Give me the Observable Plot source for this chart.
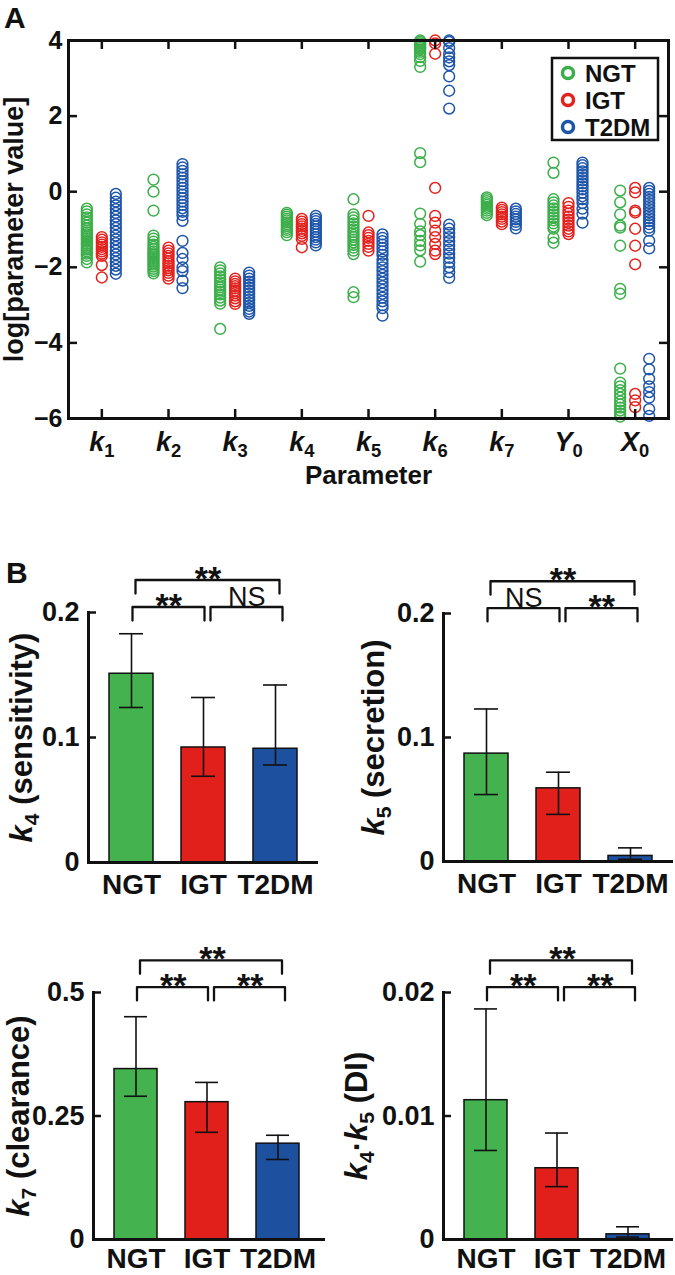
<!DOCTYPE html>
<html><head><meta charset="utf-8">
<script src="https://cdn.jsdelivr.net/npm/d3@7"></script>
<script src="https://cdn.jsdelivr.net/npm/@observablehq/plot@0.6"></script>
<style>
body{margin:0;background:#fff;}
#root{position:relative;width:675px;height:1275px;overflow:hidden;font-family:"Liberation Sans",Arial,sans-serif;color:#111;}
#root > svg{position:absolute;}
</style></head><body><div id="root"></div>
<script>
// ---------- Panel A data ----------
const parameters = ["k_1","k_2","k_3","k_4","k_5","k_6","k_7","Y_0","X_0"];
const paramIndex = [1,2,3,4,5,6,7,8,9];
const groups = ["NGT","IGT","T2DM"];
const pointColors = ["#3cae4a","#e3221d","#1d55a8"];
const barColors = ["#43b24f","#e2201b","#1e50a0"];
const yTicksA = [-6,-4,-2,0,2,4];
const yTickLabelsA = ["\u22126","\u22124","\u22122","0","2","4"];

const ngtLogValues = [
  [-0.45,-0.52,-0.6,-0.68,-0.75,-0.82,-0.9,-0.97,-1.03,-1.08,-1.13,-1.18,-1.23,-1.28,-1.33,-1.38,-1.43,-1.48,-1.53,-1.58,-1.64,-1.7,-1.78,-1.87],
  [0.32,0.0,-0.5,-1.16,-1.24,-1.32,-1.4,-1.46,-1.52,-1.58,-1.63,-1.68,-1.73,-1.78,-1.83,-1.88,-1.93,-1.98,-2.04,-2.1,-2.16],
  [-2.0,-2.08,-2.16,-2.24,-2.32,-2.4,-2.47,-2.53,-2.59,-2.65,-2.72,-2.8,-2.88,-2.96,-3.63],
  [-0.56,-0.61,-0.66,-0.71,-0.76,-0.81,-0.86,-0.91,-0.96,-1.01,-1.07,-1.15],
  [-0.2,-0.6,-0.68,-0.76,-0.84,-0.92,-1.0,-1.07,-1.14,-1.2,-1.27,-1.34,-1.41,-1.48,-1.56,-1.65,-2.66,-2.79],
  [4.0,3.96,3.92,3.88,3.84,3.8,3.76,3.7,3.64,3.56,3.46,3.3,1.02,0.78,-0.58,-0.85,-1.05,-1.15,-1.3,-1.42,-1.55,-1.85],
  [-0.15,-0.2,-0.25,-0.3,-0.35,-0.4,-0.45,-0.5,-0.56,-0.62],
  [0.77,0.5,-0.2,-0.28,-0.36,-0.44,-0.52,-0.6,-0.68,-0.76,-0.84,-0.92,-0.98,-1.22,-1.35],
  [0.03,-0.28,-0.6,-0.9,-0.95,-1.43,-2.57,-2.7,-4.68,-5.05,-5.15,-5.25,-5.35,-5.45,-5.55,-5.63,-5.71,-5.79,-5.87,-5.95]
];
const igtLogValues = [
  [-1.2,-1.27,-1.34,-1.4,-1.46,-1.52,-1.58,-1.64,-1.7,-1.94,-2.27],
  [-1.48,-1.56,-1.63,-1.7,-1.77,-1.84,-1.9,-1.96,-2.02,-2.08,-2.15,-2.22,-2.3],
  [-2.3,-2.37,-2.44,-2.5,-2.56,-2.62,-2.68,-2.75,-2.82,-2.9,-2.97],
  [-0.72,-0.79,-0.86,-0.92,-0.98,-1.04,-1.1,-1.17,-1.25,-1.47],
  [-0.64,-1.08,-1.15,-1.22,-1.3,-1.38,-1.46,-1.56],
  [4.0,3.92,3.65,0.1,-0.64,-0.82,-1.03,-1.2,-1.38,-1.56,-1.65],
  [-0.42,-0.48,-0.54,-0.6,-0.66,-0.72,-0.79,-0.86],
  [-0.3,-0.4,-0.5,-0.58,-0.66,-0.74,-0.82,-0.9,-0.98,-1.05,-1.12],
  [0.1,-0.02,-0.5,-0.55,-0.98,-1.43,-1.92,-5.35,-5.52,-5.7]
];
const t2dmLogValues = [
  [-0.06,-0.16,-0.26,-0.36,-0.46,-0.56,-0.66,-0.76,-0.86,-0.96,-1.06,-1.16,-1.26,-1.36,-1.46,-1.56,-1.66,-1.76,-1.86,-1.96,-2.06,-2.17],
  [0.73,0.64,0.55,0.46,0.37,0.28,0.19,0.1,0.01,-0.08,-0.17,-0.26,-0.35,-0.44,-0.53,-0.62,-0.77,-1.3,-1.62,-1.78,-2.0,-2.1,-2.35,-2.55],
  [-2.14,-2.22,-2.3,-2.38,-2.46,-2.54,-2.62,-2.7,-2.78,-2.86,-2.94,-3.02,-3.1,-3.17,-3.23],
  [-0.64,-0.71,-0.78,-0.85,-0.92,-0.99,-1.06,-1.13,-1.2,-1.27,-1.34,-1.42],
  [-1.13,-1.22,-1.31,-1.4,-1.49,-1.58,-1.67,-1.8,-1.9,-2.0,-2.1,-2.2,-2.3,-2.4,-2.5,-2.6,-2.7,-2.8,-2.9,-3.0,-3.08,-3.28],
  [4.0,3.96,3.8,3.65,3.55,3.45,3.35,3.05,2.67,2.2,-0.87,-0.98,-1.09,-1.2,-1.31,-1.42,-1.53,-1.64,-1.75,-1.87,-2.0,-2.13,-2.28],
  [-0.45,-0.52,-0.59,-0.66,-0.73,-0.8,-0.88,-0.97],
  [0.77,0.7,0.62,0.54,0.46,0.38,0.3,0.22,0.14,0.06,-0.03,-0.12,-0.2,-0.3,-0.45,-0.58,-0.82],
  [0.1,0.02,-0.06,-0.14,-0.22,-0.3,-0.38,-0.46,-0.54,-0.62,-0.7,-0.78,-0.86,-0.95,-1.03,-1.3,-1.5,-4.42,-4.7,-4.95,-5.15,-5.3,-5.45,-5.75,-5.93]
];

// ---------- Panel B data (median, lower / upper error) ----------
const k4Median = [0.151,0.092,0.091];
const k4Low    = [0.124,0.069,0.078];
const k4High   = [0.183,0.132,0.142];
const k5Median = [0.087,0.059,0.0045];
const k5Low    = [0.054,0.038,0.0018];
const k5High   = [0.123,0.072,0.011];
const k7Median = [0.345,0.278,0.194];
const k7Low    = [0.290,0.217,0.162];
const k7High   = [0.451,0.318,0.211];
const diMedian = [0.01128,0.00577,0.00042];
const diLow    = [0.00721,0.00428,0.0002];
const diHigh   = [0.01867,0.00862,0.00103];
// significance: [NGT-IGT, IGT-T2DM, NGT-T2DM]
const k4Sig = ["**","NS","**"];
const k5Sig = ["NS","**","**"];
const k7Sig = ["**","**","**"];
const diSig = ["**","**","**"];

const FONT = "'Liberation Sans', Arial, Helvetica, sans-serif";
const INK = "#111";
const root = document.getElementById("root");

// ---------- Panel A ----------
const AW = 675, AH = 490, AmL = 68, AmR = 7, AmT = 40, AmB = 72;
const AinW = AW - AmL - AmR, AinH = AH - AmT - AmB;
const groupValues = [ngtLogValues, igtLogValues, t2dmLogValues];
const groupDx = [-15, 0, 14];
const pts = vals => vals.flatMap((list, pi) => list.map(v => ({param: paramIndex[pi], value: v})));

const plotA = Plot.plot({
  width: AW, height: AH, marginLeft: AmL, marginRight: AmR, marginTop: AmT, marginBottom: AmB,
  style: `font-family:${FONT};overflow:visible;background:transparent;color:${INK}`,
  x: {domain: [0.5, 9.5]},
  y: {domain: [-6, 4]},
  marks: [
    ...groupValues.map((vals, gi) => Plot.dot(pts(vals), {x: "param", y: "value", r: 5.4, stroke: pointColors[gi], strokeWidth: 1.5, dx: groupDx[gi]})),
    Plot.frame({stroke: INK, strokeWidth: 3}),
    Plot.ruleY(yTicksA.slice(1, -1), {y: d => d, insetRight: AinW - 9, stroke: INK, strokeWidth: 2.5}),
    Plot.ruleY(yTicksA.slice(1, -1), {y: d => d, insetLeft: AinW - 9, stroke: INK, strokeWidth: 2.5}),
    Plot.ruleX(paramIndex, {x: d => d, insetTop: AinH - 9, stroke: INK, strokeWidth: 2.5}),
    Plot.ruleX(paramIndex, {x: d => d, insetBottom: AinH - 9, stroke: INK, strokeWidth: 2.5}),
    Plot.axisY({ticks: yTicksA, tickSize: 0, tickPadding: 6, tickFormat: (d) => yTickLabelsA[yTicksA.indexOf(d)], fontSize: 25, fontWeight: "bold", label: null}),
    Plot.axisX({ticks: paramIndex, tickSize: 0, tickPadding: 13, tickFormat: (d) => parameters[d - 1], fontSize: 27, fontWeight: "bold", label: null}),
    Plot.text(["Parameter"], {text: d => d, frameAnchor: "bottom", textAnchor: "middle", lineAnchor: "bottom", dy: 65, fontSize: 26, fontWeight: "bold", fill: INK}),
    Plot.text(["log[parameter value]"], {text: d => d, frameAnchor: "left", textAnchor: "middle", lineAnchor: "middle", rotate: -90, dx: -54, fontSize: 27, fontWeight: "bold", fill: INK})
  ]
});
plotA.style.left = "0px"; plotA.style.top = "0px";
root.appendChild(plotA);

// ---------- Panel B ----------
function barChart(o) {
  const rows = groups.map((g, i) => ({group: g, median: o.median[i], low: o.low[i], high: o.high[i]}));
  const innerW = o.width - o.marginLeft - o.marginRight;
  const step = 72.5;
  const brackets = [
    {from: 0, to: 1, level: 1.022, text: o.sig[0], dx: 1},
    {from: 1, to: 2, level: 1.022, text: o.sig[1], dx: 7},
    {from: 0, to: 2, level: 1.13, text: o.sig[2], dx: 4}
  ];
  const bracketMarks = brackets.flatMap(b => {
    const top = o.yMax * b.level, leg = o.yMax * (b.level - 0.054);
    const path = [{x: groups[b.from], y: leg}, {x: groups[b.from], y: top}, {x: groups[b.to], y: top}, {x: groups[b.to], y: leg}];
    const isNS = b.text === "NS";
    return [
      Plot.line(path, {x: "x", y: "y", stroke: INK, strokeWidth: 2.3, dx: b.dx, curve: "linear"}),
      Plot.text([b], {x: () => groups[b.from], y: () => top, text: d => d.text, dx: b.dx + (b.to - b.from) * step / 2,
        dy: isNS ? -10 : -1, fontSize: isNS ? 27 : 34, fontWeight: isNS ? "normal" : "bold", fill: INK,
        letterSpacing: isNS ? 0 : 1})
    ];
  });
  const svg = Plot.plot({
    width: o.width, height: o.height, marginLeft: o.marginLeft, marginRight: o.marginRight,
    marginTop: o.marginTop, marginBottom: o.marginBottom,
    style: `font-family:${FONT};overflow:visible;background:transparent;color:${INK}`,
    x: {type: "band", domain: groups, paddingInner: 0.39, paddingOuter: 0.28, insetRight: o.insetRight || 0},
    y: {domain: [0, o.yMax]},
    color: {domain: groups, range: barColors},
    marks: [
      Plot.barY(rows, {x: "group", y: "median", fill: "group", stroke: INK, strokeWidth: 1.5}),
      Plot.ruleX(rows, {x: "group", y1: "low", y2: "high", stroke: INK, strokeWidth: 1.6}),
      Plot.tickY(rows, {x: "group", y: "high", inset: 10, stroke: INK, strokeWidth: 1.6}),
      Plot.tickY(rows, {x: "group", y: "low", inset: 10, stroke: INK, strokeWidth: 1.6}),
      Plot.ruleY([0], {stroke: INK, strokeWidth: 3}),
      Plot.frame({anchor: "left", stroke: INK, strokeWidth: 3}),
      Plot.ruleY(o.yTicks.slice(1), {y: d => d, insetRight: innerW - 8, stroke: INK, strokeWidth: 2.5}),
      Plot.axisY({ticks: o.yTicks, tickSize: 0, tickPadding: 9, tickFormat: d => o.yTickLabels[o.yTicks.indexOf(d)], fontSize: 27, fontWeight: "bold", label: null}),
      Plot.axisX({tickSize: 0, tickPadding: o.xPad, fontSize: 28, fontWeight: "bold", label: null}),
      Plot.text([o.yLabel], {text: d => d, frameAnchor: "left", textAnchor: "middle", lineAnchor: "middle", rotate: -90, dx: o.labelDx, fontSize: 31, fontWeight: "bold", fill: INK}),
      ...bracketMarks
    ]
  });
  svg.style.left = o.left + "px"; svg.style.top = o.top + "px";
  root.appendChild(svg);
}

barChart({median: k4Median, low: k4Low, high: k4High, sig: k4Sig, yMax: 0.2, yTicks: [0, 0.1, 0.2], yTickLabels: ["0","0.1","0.2"],
  yLabel: "k_4 (sensitivity)", left: 0, top: 555, width: 337, height: 350, marginLeft: 88, marginRight: 19, marginTop: 57, marginBottom: 43, labelDx: -66, xPad: 12});
barChart({median: k5Median, low: k5Low, high: k5High, sig: k5Sig, yMax: 0.2, yTicks: [0, 0.1, 0.2], yTickLabels: ["0","0.1","0.2"],
  yLabel: "k_5 (secretion)", left: 337, top: 555, width: 338, height: 350, marginLeft: 106, marginRight: 2, marginTop: 58, marginBottom: 44, labelDx: -69, xPad: 12});
barChart({median: k7Median, low: k7Low, high: k7High, sig: k7Sig, yMax: 0.5, yTicks: [0, 0.25, 0.5], yTickLabels: ["0","0.25","0.5"],
  yLabel: "k_7 (clearance)", left: 0, top: 930, width: 337, height: 345, marginLeft: 93, marginRight: 12, marginTop: 62, marginBottom: 36, labelDx: -74, insetRight: 4, xPad: 9});
barChart({median: diMedian, low: diLow, high: diHigh, sig: diSig, yMax: 0.02, yTicks: [0, 0.01, 0.02], yTickLabels: ["0","0.01","0.02"],
  yLabel: "k_4\u00b7k_5 (DI)", left: 337, top: 930, width: 338, height: 345, marginLeft: 106, marginRight: 2, marginTop: 62, marginBottom: 36, labelDx: -86, insetRight: 2, xPad: 9});

// ---------- Overlay: panel letters + legend ----------
const NS = "http://www.w3.org/2000/svg";
const ov = d3.create("svg").attr("width", 675).attr("height", 1275)
  .style("left", "0px").style("top", "0px").style("pointer-events", "none")
  .attr("font-family", FONT).attr("fill", INK);
ov.append("text").attr("x", 4).attr("y", 28).attr("font-size", 30).attr("font-weight", "bold").text("A");
ov.append("text").attr("x", 6).attr("y", 583).attr("font-size", 30).attr("font-weight", "bold").text("B");
const lg = ov.append("g").attr("transform", "translate(552,58)");
lg.append("rect").attr("width", 106).attr("height", 82).attr("fill", "#fff").attr("stroke", INK).attr("stroke-width", 2.5);
groups.forEach((g, i) => {
  const yy = 15 + i * 27;
  lg.append("circle").attr("cx", 16).attr("cy", yy).attr("r", 5.5).attr("fill", "none").attr("stroke", pointColors[i]).attr("stroke-width", 3.5);
  lg.append("text").attr("x", 33).attr("y", yy + 8.5).attr("font-size", 24).attr("font-weight", "bold").text(g);
});
root.appendChild(ov.node());

// ---------- rich text: italic symbol + subscript digit ----------
function richify(container) {
  container.querySelectorAll("text").forEach(el => {
    const s = el.textContent;
    if (!/[kXY]_\d/.test(s)) return;
    const fs = parseFloat(getComputedStyle(el).fontSize) || 20;
    const shift = Math.round(fs * 0.24);
    while (el.firstChild) el.removeChild(el.firstChild);
    let pending = 0;
    s.split(/([kXY]_\d)/).forEach(p => {
      if (!p) return;
      const m = p.match(/^([kXY])_(\d)$/);
      if (m) {
        const a = document.createElementNS(NS, "tspan");
        a.setAttribute("font-style", "italic");
        if (pending) a.setAttribute("dy", -pending);
        a.textContent = m[1]; el.appendChild(a);
        const b = document.createElementNS(NS, "tspan");
        b.setAttribute("font-size", (fs * 0.68).toFixed(1));
        b.setAttribute("dy", shift);
        b.textContent = m[2]; el.appendChild(b);
        pending = shift;
      } else {
        const c = document.createElementNS(NS, "tspan");
        if (pending) c.setAttribute("dy", -pending);
        pending = 0;
        c.textContent = p; el.appendChild(c);
      }
    });
  });
}
richify(root);
</script>
</body></html>
